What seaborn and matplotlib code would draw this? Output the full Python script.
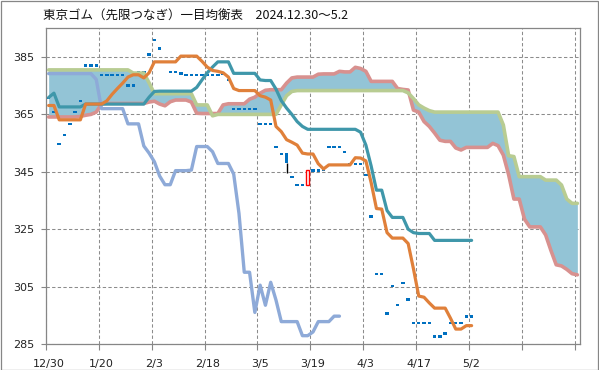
import numpy as np
import pandas as pd
import matplotlib
matplotlib.use("Agg")
import matplotlib.pyplot as plt
import seaborn as sns
from matplotlib.patches import Rectangle

title = "東京ゴム（先限つなぎ）一目均衡表　2024.12.30～5.2"
date_labels = ["12/30", "1/20", "2/3", "2/18", "3/5", "3/19", "4/3", "4/17", "5/2"]
date_label_idx = [0, 10, 20, 30, 40, 50, 60, 70, 80]
y_ticks = [285, 305, 325, 345, 365, 385]

# closing prices (day 0 .. 80)
close = [370.7, 365.9, 354.7, 357.8, 361.7, 365.9, 369.7, 382.0, 382.0, 382.0,
         378.8, 378.8, 378.8, 378.8, 378.8, 375.0, 375.0, 379.8, 379.8, 385.8,
         391.0, 387.9, 383.3, 379.8, 379.8, 379.2, 378.8, 378.8, 378.8, 378.8,
         378.8, 378.8, 378.8, 379.0, 377.0, 366.8, 366.8, 366.8, 366.8, 366.8,
         361.6, 361.6, 361.6, 353.7, 351.2, 348.1, 343.2, 340.4, 340.4, 345.6,
         345.4, 345.4, 345.8, 353.7, 353.7, 353.7, 351.9, 347.7, 347.7, 347.7,
         343.9, 329.4, 309.4, 309.4, 295.6, 305.3, 298.5, 306.3, 300.5, 292.3,
         292.3, 292.3, 292.3, 287.6, 287.6, 288.6, 292.3, 292.3, 292.3, 294.5,
         294.5]
# candles with a real body (others are flat dashes)
body_idx = [45, 49]
body_open = [351.5, 340.4]
body_close = [348.1, 345.6]
body_high = [351.5, 345.6]
body_low = [344.6, 340.4]

tenkan = [368.1, 368.1, 363.1, 363.1, 363.1, 363.1, 363.1, 368.6, 368.6, 368.6,
          368.6, 369.7, 372.0, 374.0, 375.9, 378.0, 378.8, 378.8, 377.7, 379.5,
          383.3, 383.3, 383.3, 383.3, 383.3, 385.3, 385.3, 385.3, 385.3, 383.5,
          381.5, 380.3, 380.0, 379.5, 378.0, 374.0, 373.3, 373.3, 373.3, 373.3,
          371.5, 371.0, 370.0, 360.8, 359.0, 356.2, 355.3, 354.3, 351.5, 351.2,
          351.2, 347.8, 346.0, 347.4, 347.4, 347.4, 347.4, 347.4, 349.9, 349.8,
          348.8, 341.2, 332.2, 332.0, 323.8, 321.9, 321.9, 321.9, 320.0, 311.2,
          301.7, 301.3, 299.3, 297.5, 297.5, 297.5, 294.0, 290.2, 290.2, 291.4,
          291.4]

kijun = [370.9, 372.4, 367.6, 367.6, 367.6, 367.6, 367.6, 368.6, 368.6, 368.6,
         368.6, 368.6, 368.6, 368.6, 368.6, 368.6, 368.6, 368.6, 368.6, 371.0,
         373.0, 373.1, 373.1, 373.1, 373.1, 373.1, 373.1, 373.1, 374.4, 377.0,
         379.5, 381.5, 383.3, 383.3, 383.3, 379.3, 379.3, 379.3, 379.3, 379.3,
         377.0, 376.8, 376.8, 373.8, 369.8, 367.2, 365.0, 362.5, 360.8, 359.8,
         359.8, 359.8, 359.8, 359.8, 359.8, 359.8, 359.8, 359.8, 359.8, 358.8,
         354.3, 347.0, 338.6, 338.6, 331.5, 329.1, 329.1, 329.1, 325.0, 323.8,
         323.5, 323.5, 323.5, 321.1, 321.1, 321.1, 321.1, 321.1, 321.1, 321.1,
         321.1]

chikou = [379.2, 379.2, 379.2, 379.2, 379.2, 379.2, 379.2, 379.2, 379.2, 377.2,
          367.0, 367.0, 367.0, 367.0, 367.0, 361.7, 361.7, 361.7, 354.0, 351.5,
          348.5, 343.5, 340.5, 340.5, 345.4, 345.4, 345.4, 345.6, 353.8, 353.8,
          353.8, 352.0, 347.9, 347.9, 347.9, 344.2, 330.5, 310.0, 310.0, 296.0,
          305.5, 298.5, 306.5, 300.3, 292.8, 292.8, 292.8, 292.8, 287.9, 287.9,
          289.2, 292.8, 292.8, 292.8, 294.7, 294.7]

span_a = [364.1, 364.1, 364.1, 364.1, 364.1, 364.1, 364.3, 364.7, 365.0, 365.8,
          368.6, 368.8, 368.8, 368.8, 368.8, 368.8, 368.8, 368.8, 368.8, 369.3,
          369.6, 368.6, 368.0, 369.4, 370.0, 370.0, 370.0, 369.3, 365.4, 365.3,
          365.3, 365.3, 365.3, 368.3, 368.7, 368.7, 368.7, 368.7, 370.3, 371.0,
          372.4, 373.4, 373.6, 373.6, 373.6, 375.9, 377.7, 378.0, 378.0, 378.0,
          378.0, 379.0, 379.1, 379.1, 379.1, 380.0, 379.8, 379.8, 381.4, 381.0,
          380.0, 376.5, 376.5, 376.5, 376.5, 376.5, 374.0, 373.7, 373.5, 366.5,
          365.8, 362.5, 360.8, 358.5, 356.0, 355.6, 355.6, 353.3, 352.6, 353.5,
          353.5, 353.5, 353.5, 353.5, 354.9, 354.1, 350.8, 344.0, 335.5, 335.5,
          328.5, 325.8, 325.8, 325.8, 323.0, 317.6, 312.6, 312.2, 311.0, 309.5,
          309.1]

span_b = [380.5, 380.5, 380.5, 380.5, 380.5, 380.5, 380.5, 380.5, 380.5, 380.5,
          380.5, 380.5, 380.5, 380.5, 380.5, 380.5, 379.4, 379.4, 379.4, 376.0,
          372.2, 372.2, 372.2, 372.2, 372.2, 372.2, 372.2, 372.2, 368.3, 368.3,
          368.3, 364.5, 365.0, 365.0, 365.0, 365.0, 365.0, 365.0, 365.0, 365.0,
          365.0, 365.0, 365.0, 365.0, 368.3, 371.5, 373.0, 373.3, 373.3, 373.3,
          373.3, 373.3, 373.3, 373.3, 373.3, 373.3, 373.3, 373.3, 373.3, 373.3,
          373.3, 373.3, 373.3, 373.3, 373.3, 373.3, 373.3, 373.3, 372.5, 370.5,
          368.3, 367.2, 366.3, 365.8, 365.8, 365.8, 365.8, 365.8, 365.8, 365.8,
          365.8, 365.8, 365.8, 365.8, 365.8, 365.8, 361.3, 350.6, 350.3, 343.3,
          343.3, 343.3, 343.3, 343.3, 342.1, 342.1, 342.1, 340.4, 335.5, 334.0,
          334.0]

sns.set_style("white")
plt.rcParams['font.family'] = ['DejaVu Sans', 'Noto Sans CJK JP']

W, H = 599, 370
fig = plt.figure(figsize=(W / 100, H / 100), dpi=100)
ax = fig.add_axes([46 / W, 1 - 344 / H, (580 - 46) / W, (344 - 28) / H])

c_fill = "#93C4D6"
c_a = "#D8918F"
c_b = "#B8CC92"
c_chikou = "#8EAAD8"
c_kijun = "#3F97AA"
c_tenkan = "#E0803A"
c_candle = "#0070C0"

xs_span = np.arange(len(span_a)) + 0.5
ax.fill_between(xs_span, span_a, span_b, color=c_fill, lw=0, zorder=1)

# candles
xc = np.arange(len(close)) + 0.5
dash_x = [x for i, x in enumerate(xc) if i not in body_idx]
dash_y = [c for i, c in enumerate(close) if i not in body_idx]
ax.bar(dash_x, 0.85, bottom=np.array(dash_y) - 0.42, width=0.65, color=c_candle,
       lw=0, zorder=2)
for i, o, c, h, l in zip(body_idx, body_open, body_close, body_high, body_low):
    x = i + 0.5
    lo, hi = min(o, c), max(o, c)
    ax.vlines(x, l, lo, color="black", lw=1, zorder=2)
    ax.vlines(x, hi, h, color="black", lw=1, zorder=2)
    if c < o:
        ax.bar(x, hi - lo, bottom=lo, width=0.65, color=c_candle, lw=0, zorder=2)
    else:
        ax.bar(x, hi - lo, bottom=lo, width=0.55, facecolor="white",
               edgecolor="#FF0000", lw=1, zorder=2)

def line(vals, color, lw, z):
    df = pd.DataFrame({"x": np.arange(len(vals)) + 0.5, "y": vals})
    sns.lineplot(data=df, x="x", y="y", ax=ax, color=color, lw=lw,
                 estimator=None, sort=False, legend=False, zorder=z,
                 solid_joinstyle="round", solid_capstyle="round")

line(span_a, c_a, 2.6, 3)
line(span_b, c_b, 2.6, 3)
line(chikou, c_chikou, 2.4, 4)
line(kijun, c_kijun, 2.3, 5)
line(tenkan, c_tenkan, 2.3, 6)

ax.set_xlim(0, 101)
ax.set_ylim(285, 395.1)
ax.set_xlabel("")
ax.set_ylabel("")

ax.set_xticks(np.arange(0, 101, 10))
ax.set_xticklabels([])
ax.set_xticks(np.array(date_label_idx) + 0.5, minor=True)
ax.set_xticklabels(date_labels, minor=True)
ax.set_yticks(y_ticks)
ax.set_yticklabels([str(v) for v in y_ticks])

gray = "#868686"
ax.tick_params(axis="x", which="major", length=4, width=0.8, color=gray,
               direction="out", bottom=True)
ax.tick_params(axis="x", which="minor", length=0, pad=10.5, labelsize=8,
               labelcolor="#222222", bottom=True)
ax.tick_params(axis="y", which="major", length=3.5, width=0.8, color=gray,
               direction="out", pad=5, labelsize=8, labelcolor="#222222", left=True)

ax.grid(True, which="major", axis="both", color="#8C8C8C", lw=0.75,
        ls=(0, (3.2, 2.2)))
ax.set_axisbelow(True)
for s in ax.spines.values():
    s.set_color(gray)
    s.set_linewidth(0.9)
    s.set_visible(True)

fig.text(43 / W, 1 - 15 / H, title, ha="left", va="center", fontsize=9,
         color="#111111", family=["Noto Sans CJK JP", "DejaVu Sans"])
fig.patches.append(Rectangle((0.5 / W, 0.5 / H), 1 - 1.5 / W, 1 - 1.5 / H,
                             transform=fig.transFigure, fill=False,
                             edgecolor=gray, lw=0.9))

fig.savefig("out.png", dpi=100)
